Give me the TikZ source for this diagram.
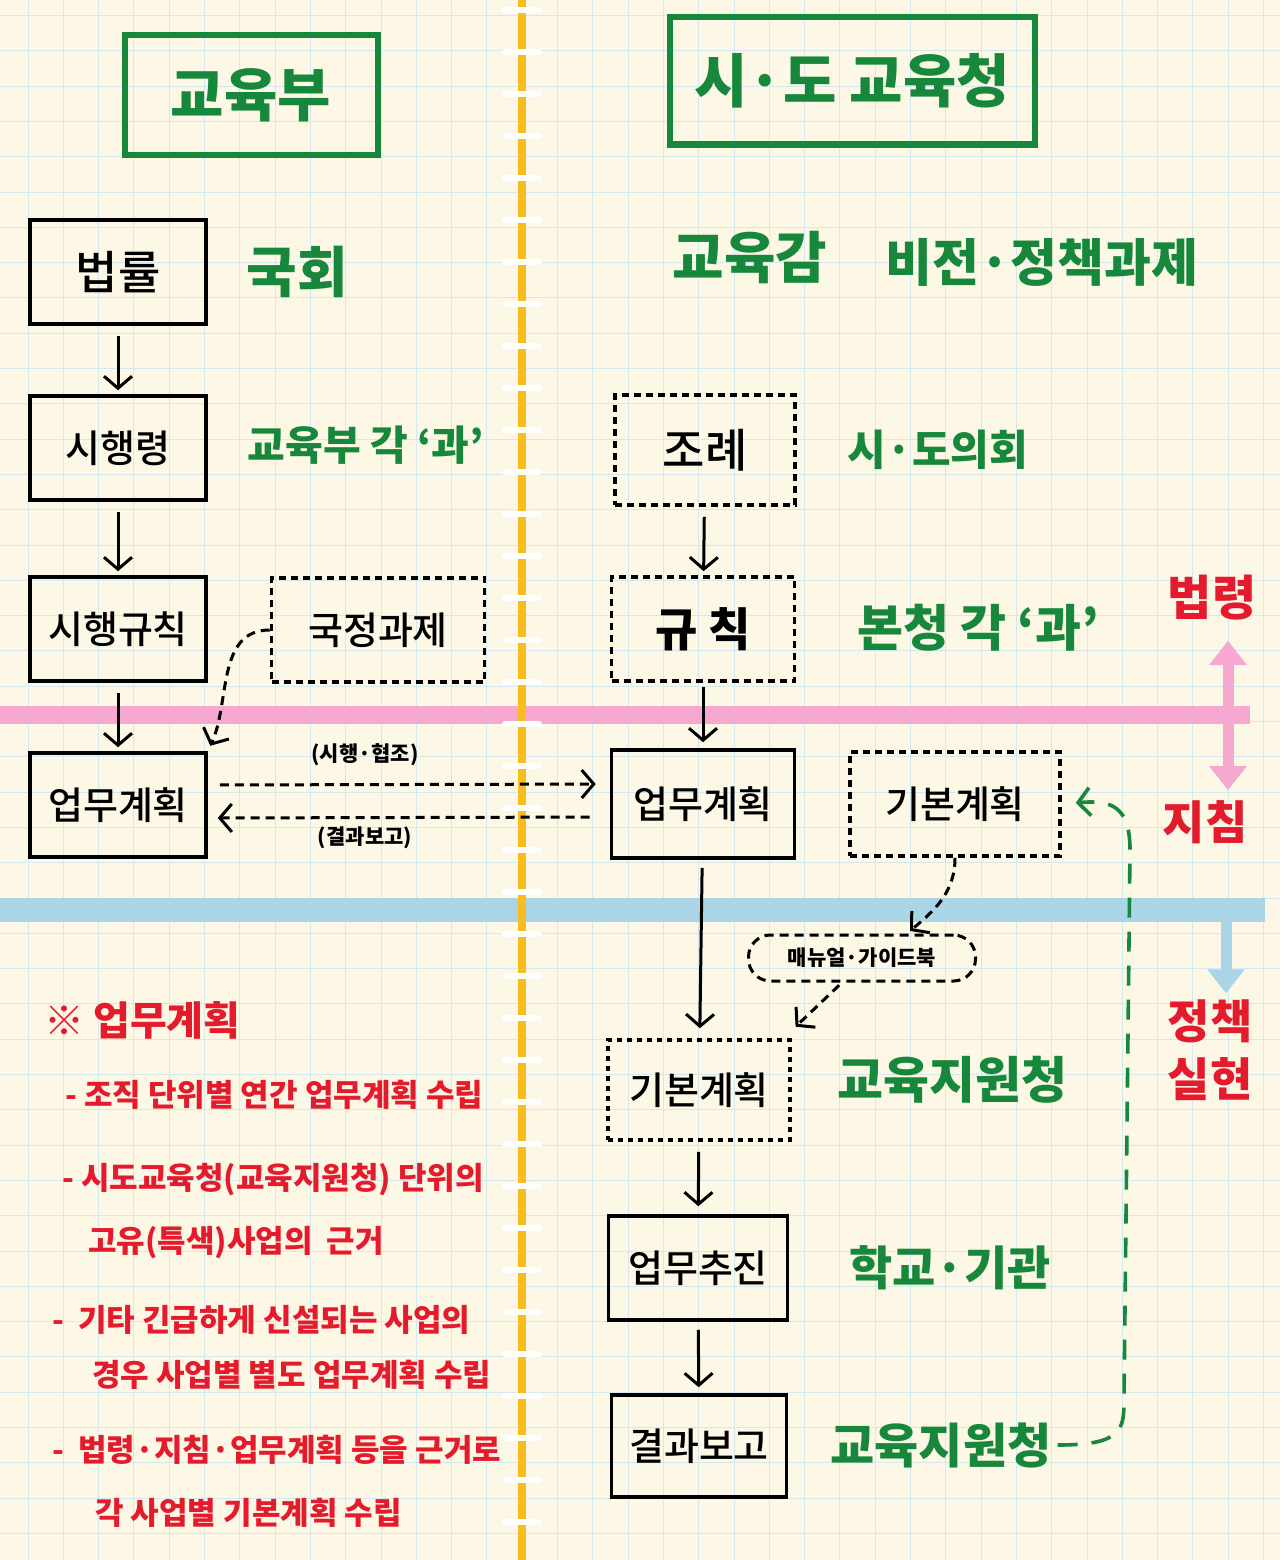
\documentclass[tikz,border=0pt]{standalone}
\usepackage{fontspec}
\setmainfont{Noto Sans CJK KR}
\newfontfamily\boxfont{Noto Sans CJK KR Medium}
\usetikzlibrary{arrows.meta}
\definecolor{NoteGreen}{HTML}{17873B}
\definecolor{NoteRed}{HTML}{E31B2C}
\definecolor{NotePaper}{HTML}{FDF7E6}
\definecolor{NoteGrid}{HTML}{D3E8EF}
\definecolor{NotePink}{HTML}{F6A8D0}
\definecolor{NoteBlue}{HTML}{A9D5E7}
\definecolor{NoteYellow}{HTML}{F8BC1E}
\tikzset{
  planbox/.style={draw, line width=3.6pt, minimum width=176pt, minimum height=104pt, inner sep=0pt, font=\boxfont\fontsize{38}{40}\selectfont},
  dashbox/.style={planbox, dash pattern=on 7pt off 5pt},
  titlebox/.style={draw=NoteGreen, text=NoteGreen, line width=6pt, inner sep=0pt, font=\bfseries\fontsize{58}{60}\selectfont},
  greenlabel/.style={text=NoteGreen, inner sep=0pt, font=\bfseries\fontsize{48}{50}\selectfont},
  redlabel/.style={text=NoteRed, inner sep=0pt, align=center, font=\bfseries\fontsize{44}{56}\selectfont},
  noteline/.style={anchor=west, text=NoteRed, inner sep=0pt, font=\bfseries\fontsize{31}{34}\selectfont},
  smalllabel/.style={inner sep=0pt, font=\bfseries\fontsize{21}{24}\selectfont},
  flow/.style={line width=3pt, -{Straight Barb[length=12pt,width=28pt]}},
  dflow/.style={flow, dash pattern=on 9pt off 6pt},
}
\begin{document}
\begin{tikzpicture}[x=1pt,y=-1pt]
\path[use as bounding box, fill=NotePaper] (0,0) rectangle (1280,1560);
\foreach \gx in {28,63.3,...,1280} \draw[NoteGrid, line width=1pt] (\gx,0) -- (\gx,1560);
\foreach \gy in {15.5,50.8,...,1560} \draw[NoteGrid, line width=1pt] (0,\gy) -- (1280,\gy);
\draw[NotePink, line width=18pt] (0,715) -- (1250,715);
\draw[NoteBlue, line width=24pt] (0,910) -- (1265,910);
\draw[NoteYellow, line width=8pt] (522,0) -- (522,1560);
\foreach \wy in {10,52,...,1560} \draw[white, line width=6pt, line cap=round] (505,\wy) -- (539,\wy);

\node[titlebox, minimum width=253pt, minimum height=120pt] (moe) at (251,95) {교육부};
\node[titlebox, minimum width=365pt, minimum height=127pt] (sdoe) at (852,81) {시·도 교육청};

\node[planbox, font=\boxfont\fontsize{46}{48}\selectfont] (law) at (118,272) {법률};
\node[planbox] (decree) at (118,448) {시행령};
\node[planbox] (rule) at (118,629) {시행규칙};
\node[planbox] (lplan) at (118,805) {업무계획};
\node[dashbox, minimum width=213pt] (natl) at (378,630) {국정과제};
\node[greenlabel, font=\bfseries\fontsize{55}{57}\selectfont] (assembly) at (297,272) {국회};
\node[greenlabel, font=\bfseries\fontsize{41}{43}\selectfont] (moedept) at (366,445) {교육부 각 ‘과’};

\node[greenlabel, font=\bfseries\fontsize{56}{58}\selectfont] (supt) at (750,258) {교육감};
\node[greenlabel, font=\bfseries\fontsize{51}{53}\selectfont] (vision) at (1042,262) {비전·정책과제};
\node[dashbox, minimum width=180pt, minimum height=110pt, font=\boxfont\fontsize{46}{48}\selectfont] (ordin) at (705,450) {조례};
\node[greenlabel, font=\bfseries\fontsize{42}{44}\selectfont] (council) at (938,450) {시·도의회};
\node[dashbox, minimum width=183pt, font=\bfseries\fontsize{46}{48}\selectfont] (rrule) at (703,629) {규 칙};
\node[greenlabel, font=\bfseries\fontsize{50}{52}\selectfont] (hqdept) at (978,628) {본청 각 ‘과’};
\node[planbox, minimum width=183pt, minimum height=108pt] (rplan) at (703,804) {업무계획};
\node[dashbox, minimum width=210pt] (bplanA) at (955,804) {기본계획};
\node[draw, line width=3pt, dash pattern=on 9pt off 6pt, rounded corners=22pt, minimum width=227pt, minimum height=46pt, smalllabel] (manual) at (862,958) {매뉴얼·가이드북};
\node[planbox, dash pattern=on 5pt off 5pt, minimum width=182pt, minimum height=100pt] (bplanB) at (699,1090) {기본계획};
\node[greenlabel, font=\bfseries\fontsize{50}{52}\selectfont] (supportA) at (952,1080) {교육지원청};
\node[planbox, minimum width=179pt] (exec) at (698,1268) {업무추진};
\node[greenlabel, font=\bfseries\fontsize{47}{49}\selectfont] (school) at (950,1268) {학교·기관};
\node[planbox, minimum width=175pt, minimum height=102pt] (report) at (699,1446) {결과보고};
\node[greenlabel] (supportB) at (941,1445) {교육지원청};

\node[smalllabel] (coop) at (365,755) {(시행·협조)};
\node[smalllabel] (result) at (365,838) {(결과보고)};

\node[redlabel, font=\bfseries\fontsize{48}{50}\selectfont] (rlaw) at (1212,598) {법령};
\node[redlabel, font=\bfseries\fontsize{46}{48}\selectfont] (rguide) at (1205,822) {지침};
\node[redlabel, font=\bfseries\fontsize{46}{58}\selectfont] (rpolicy) at (1210,1050) {정책\\실현};
\coordinate (bluetop) at (1226,918);

\node[noteline, font=\bfseries\fontsize{40}{42}\selectfont] (n0) at (44,1020) {※ 업무계획};
\node[noteline] (n1) at (65,1095) {- 조직 단위별 연간 업무계획 수립};
\node[noteline] (n2) at (62,1180) {- 시도교육청(교육지원청) 단위의};
\node[noteline] (n3) at (88,1243) {고유(특색)사업의\ \ 근거};
\node[noteline] (n4) at (52,1320) {-\ \ 기타 긴급하게 신설되는 사업의};
\node[noteline] (n5) at (92,1375) {경우 사업별 별도 업무계획 수립};
\node[noteline] (n6) at (52,1450) {-\ \ 법령·지침·업무계획 등을 근거로};
\node[noteline] (n7) at (95,1513) {각 사업별 기본계획 수립};

\draw[flow, shorten <=10pt, shorten >=4pt] (law) -- (decree);
\draw[flow, shorten <=10pt, shorten >=4pt] (decree) -- (rule);
\draw[flow, shorten <=10pt, shorten >=4pt] (rule) -- (lplan);
\draw[dflow, shorten >=6pt] (natl.west) to[out=180,in=65] (lplan.north east);
\draw[dflow, shorten <=12pt, shorten >=14pt] ([yshift=20pt]lplan.east) -- ([yshift=20pt]rplan.west);
\draw[dflow, shorten <=20pt, shorten >=10pt] ([yshift=-13pt]rplan.west) -- ([yshift=-13pt]lplan.east);
\draw[flow, shorten <=10pt, shorten >=4pt] (ordin) -- (rrule);
\draw[flow, shorten <=4pt, shorten >=6pt] (rrule) -- (rplan);
\draw[flow, shorten <=8pt, shorten >=10pt] (rplan) -- (bplanB);
\draw[flow, shorten <=10pt, shorten >=8pt] (bplanB) -- (exec);
\draw[flow, shorten <=8pt, shorten >=6pt] (exec) -- (report);
\draw[dflow, shorten >=4pt] (bplanA.south) to[out=-90,in=40] ([xshift=45pt]manual.north);
\draw[dflow, shorten <=4pt, shorten >=8pt] ([xshift=-20pt]manual.south) -- ([xshift=-2pt,yshift=6pt]bplanB.north east);
\draw[NoteGreen, line width=3.6pt, dash pattern=on 20pt off 14pt, -{Straight Barb[length=12pt,width=28pt]}, shorten <=6pt, shorten >=14pt]
  (supportB.east) .. controls (1122,1445) and (1124,1430) .. (1124,1400) -- (1130,850)
  .. controls (1130,805) and (1110,800) .. (bplanA.east);
\draw[NotePink, line width=11pt, {Triangle[width=36pt,length=24pt]}-{Triangle[width=36pt,length=24pt]}, shorten <=20pt, shorten >=10pt] ([xshift=16pt]rlaw.south) -- ([xshift=23pt]rguide.north);
\draw[NoteBlue, line width=11pt, -{Triangle[width=36pt,length=24pt]}, shorten >=6pt] (bluetop) -- (bluetop |- rpolicy.north);
\end{tikzpicture}
\end{document}
